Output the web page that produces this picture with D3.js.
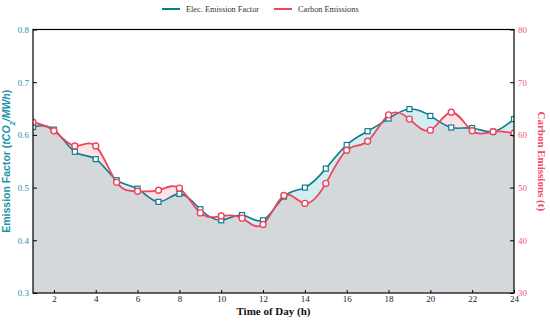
<!DOCTYPE html>
<html>
<head>
<meta charset="utf-8">
<script src="https://cdn.jsdelivr.net/npm/d3@7"></script>
<style>
  body { margin: 0; background: #fff; }
  text { font-family: "Liberation Serif", "Times New Roman", serif; }
</style>
</head>
<body>
<div id="chart"></div>
<script>
// hours of the day
var hours = [1, 2, 3, 4, 5, 6, 7, 8, 9, 10, 11, 12, 13, 14, 15, 16, 17, 18, 19, 20, 21, 22, 23, 24];

// electricity emission factor (tCO2/MWh), left axis
var emissionFactor = [0.615, 0.610, 0.568, 0.554, 0.514, 0.498, 0.473, 0.488, 0.459, 0.438, 0.448, 0.438,
  0.483, 0.500, 0.536, 0.581, 0.607, 0.631, 0.649, 0.636, 0.614, 0.613, 0.606, 0.630];

// carbon emissions (t), right axis
var carbonEmissions = [62.4, 60.8, 57.9, 57.9, 51.0, 49.3, 49.5, 49.9, 45.2, 44.6, 44.2, 43.0,
  48.5, 47.0, 50.8, 57.1, 58.8, 63.8, 63.0, 60.9, 64.3, 60.8, 60.6, 60.3];

var xTicks = [2, 4, 6, 8, 10, 12, 14, 16, 18, 20, 22, 24];
var leftTicks = [0.3, 0.4, 0.5, 0.6, 0.7, 0.8];
var rightTicks = [30, 40, 50, 60, 70, 80];

var svgWidth = 550;
var svgHeight = 323;
var margin = { top: 29.5, right: 36, bottom: 30, left: 33 };
var width = svgWidth - margin.left - margin.right;
var height = svgHeight - margin.top - margin.bottom;

var serif = "'Liberation Serif', 'Times New Roman', serif";
var teal = "#0f7c8e";
var red = "#f0445c";

var svg = d3.select("#chart")
  .append("svg")
  .attr("width", svgWidth)
  .attr("height", svgHeight);

var chartGroup = svg.append("g")
  .attr("transform", `translate(${margin.left}, ${margin.top})`);

var x = d3.scaleLinear().domain([1, 24]).range([0, width]);
var yLeft = d3.scaleLinear().domain([0.3, 0.8]).range([height, 0]);
var yRight = d3.scaleLinear().domain([30, 80]).range([height, 0]);

var data = hours.map(function(h, i) {
  return { h: h, ef: emissionFactor[i], ce: carbonEmissions[i] };
});

var curve = d3.curveNatural;

var efArea = d3.area().curve(curve)
  .x(d => x(d.h)).y0(height).y1(d => yLeft(d.ef));
var ceArea = d3.area().curve(curve)
  .x(d => x(d.h)).y0(height).y1(d => yRight(d.ce));
var efLine = d3.line().curve(curve).x(d => x(d.h)).y(d => yLeft(d.ef));
var ceLine = d3.line().curve(curve).x(d => x(d.h)).y(d => yRight(d.ce));

// clip for the plot area and for the shared (gray) part
var defs = svg.append("defs");
defs.append("clipPath").attr("id", "plotClip")
  .append("rect").attr("width", width).attr("height", height);
defs.append("clipPath").attr("id", "ceClip")
  .append("path").attr("d", ceArea(data));

var plot = chartGroup.append("g").attr("clip-path", "url(#plotClip)");

// fills between the curves
plot.append("path").attr("d", ceArea(data)).attr("fill", "#fde3e7");
plot.append("path").attr("d", efArea(data)).attr("fill", "#d3eef1");
// gray fill below both curves
plot.append("g").attr("clip-path", "url(#ceClip)")
  .append("path").attr("d", efArea(data)).attr("fill", "#d5d8db");

plot.append("path").attr("d", efLine(data))
  .attr("fill", "none").attr("stroke", teal).attr("stroke-width", 1.6);
plot.append("path").attr("d", ceLine(data))
  .attr("fill", "none").attr("stroke", red).attr("stroke-width", 1.8);

// markers
plot.selectAll("rect.ef").data(data).enter()
  .append("rect")
  .attr("class", "ef")
  .attr("x", d => x(d.h) - 2.5)
  .attr("y", d => yLeft(d.ef) - 2.5)
  .attr("width", 5).attr("height", 5)
  .attr("fill", "#fff").attr("stroke", teal).attr("stroke-width", 1.2);

plot.selectAll("circle.ce").data(data).enter()
  .append("circle")
  .attr("class", "ce")
  .attr("cx", d => x(d.h))
  .attr("cy", d => yRight(d.ce))
  .attr("r", 3)
  .attr("fill", "#fff").attr("stroke", red).attr("stroke-width", 1.4);

// axes
var bottomAxis = d3.axisBottom(x).tickValues(xTicks).tickSizeInner(-3).tickSizeOuter(0).tickPadding(3);
var leftAxis = d3.axisLeft(yLeft).tickValues(leftTicks).tickFormat(d3.format(".1f")).tickSizeInner(-4).tickSizeOuter(0).tickPadding(4);
var rightAxis = d3.axisRight(yRight).tickValues(rightTicks).tickSizeInner(-4).tickSizeOuter(0).tickPadding(4);

var gx = chartGroup.append("g")
  .attr("transform", `translate(0, ${height})`)
  .call(bottomAxis);
gx.selectAll("text").attr("fill", "#222");

var gl = chartGroup.append("g").call(leftAxis);
gl.selectAll("text").attr("fill", "#1a93a8");

var gr = chartGroup.append("g")
  .attr("transform", `translate(${width}, 0)`)
  .call(rightAxis);
gr.selectAll("text").attr("fill", "#f4596e");

[gx, gl, gr].forEach(function(g) {
  g.attr("font-family", serif).attr("font-size", 9);
  g.selectAll("text").style("font-family", serif).style("font-size", "9px");
  g.selectAll("line").attr("stroke", "#000");
  g.select(".domain").remove();
});

// frame
chartGroup.append("rect")
  .attr("width", width).attr("height", height)
  .attr("fill", "none").attr("stroke", "#000").attr("stroke-width", 1.2);

// axis labels
chartGroup.append("text")
  .attr("x", width / 2)
  .attr("y", height + 21.5)
  .attr("text-anchor", "middle")
  .attr("font-weight", "bold")
  .attr("fill", "#111")
  .style("font-size", "11px")
  .text("Time of Day (h)");

var leftLabel = chartGroup.append("text")
  .attr("transform", `translate(${-23}, ${height / 2}) rotate(-90)`)
  .attr("text-anchor", "middle")
  .attr("font-weight", "bold")
  .attr("fill", "#1a93a8")
  .style("font-family", "'Liberation Sans', Arial, sans-serif")
  .style("font-size", "10.5px");
leftLabel.append("tspan").text("Emission Factor (");
leftLabel.append("tspan").attr("font-style", "italic").text("tCO");
leftLabel.append("tspan").attr("font-style", "italic").attr("baseline-shift", "sub").style("font-size", "7.5px").text("2");
leftLabel.append("tspan").attr("font-style", "italic").text("/MWh");
leftLabel.append("tspan").text(")");

chartGroup.append("text")
  .attr("transform", `translate(${width + 24}, ${height / 2}) rotate(90)`)
  .attr("text-anchor", "middle")
  .attr("font-weight", "bold")
  .attr("fill", "#f4485f")
  .style("font-size", "11px")
  .text("Carbon Emissions (t)");

// legend
var legendItems = [
  { label: "Elec. Emission Factor", color: teal, x: 162 },
  { label: "Carbon Emissions", color: red, x: 274 }
];
var legend = svg.append("g").selectAll("g").data(legendItems).enter()
  .append("g")
  .attr("transform", d => `translate(${d.x}, 9)`);
legend.append("line")
  .attr("x1", 0).attr("x2", 18)
  .attr("stroke", d => d.color).attr("stroke-width", 2);
legend.append("text")
  .attr("x", 24).attr("y", 3)
  .attr("fill", "#333")
  .style("font-size", "8.3px")
  .text(d => d.label);
</script>
</body>
</html>
